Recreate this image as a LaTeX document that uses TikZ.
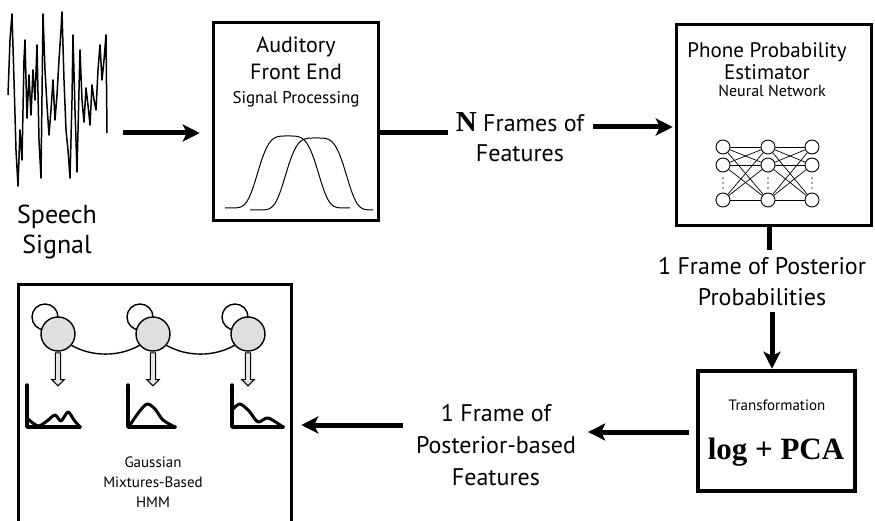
\documentclass[tikz,border=0pt]{standalone}
\usepackage{fontspec}
\setmainfont{PT Sans}
\newfontfamily\timesfont{Liberation Serif}
\usetikzlibrary{arrows.meta,shapes.arrows}
\tikzset{
  box/.style={draw, line width=3.5pt, inner sep=0pt},
  flow/.style={line width=5pt, -{Stealth[length=17pt,width=17pt,inset=4pt]}},
  link/.style={line width=5pt},
  lbl/.style={align=center, inner sep=1pt},
  neuron/.style={circle, draw, line width=0.9pt, minimum size=14pt, inner sep=0pt, fill=white},
  state/.style={circle, draw, line width=1.4pt, fill=gray!25, minimum size=34pt, inner sep=0pt},
  loopc/.style={circle, draw, line width=1.4pt, minimum size=26pt, inner sep=0pt},
  emit/.style={single arrow, draw, fill=gray!20, line width=1pt, shape border rotate=270, minimum height=33pt, inner sep=2.2pt, single arrow head extend=3.5pt},
  pdfline/.style={line width=3pt, line cap=round, line join=round}
}
\begin{document}
\begin{tikzpicture}[x=1pt,y=-1pt]
\path[use as bounding box, clip] (0,0) rectangle (875,521);
\coordinate (row1) at (0,133);
\coordinate (row2) at (0,127);
\coordinate (row3) at (0,432);
\coordinate (row4) at (0,425);
\coordinate (col1) at (769,0);
\coordinate (col2) at (772,0);
\node[minimum width=100pt, minimum height=176pt] (wave) at (58,100){};
\draw[line width=1.5pt, line join=round] plot coordinates {(8,95) (10,40) (12,14) (14,80) (16,150) (18,186) (20,130) (22,160) (24,60) (25,40) (27,118) (29,75) (31,115) (33,70) (35,100) (37,45) (39,140) (41,178) (43,14) (45,70) (47,105) (49,135) (51,110) (53,80) (55,120) (57,95) (59,60) (61,30) (62,12) (64,80) (66,130) (68,150) (70,178) (72,100) (73,35) (75,110) (77,172) (79,90) (80,50) (82,100) (84,122) (86,88) (88,105) (90,125) (92,85) (94,100) (96,110) (98,70) (100,45) (102,80) (104,60) (106,35) (107,133)};
\node[lbl, font=\fontsize{26}{30}\selectfont] (speech) at (57,232){Speech\\Signal};
\node[box, minimum width=165pt, minimum height=198pt] (front) at (296,121.5){};
\node[lbl, font=\fontsize{22}{27}\selectfont] (fronttxt) at (296,58){Auditory\\Front End};
\node[lbl, font=\fontsize{17}{20}\selectfont] (sigproc) at (296,99){Signal Processing};
\draw[line width=1pt] plot[domain=225:350, samples=70] (\x,{208-72*exp(-((\x-288)*(\x-288)/1089)*((\x-288)*(\x-288)/1089))});
\draw[line width=1pt] plot[domain=250:373, samples=70] (\x,{210-72*exp(-((\x-316)*(\x-316)/1089)*((\x-316)*(\x-316)/1089))});
\node[lbl, font=\fontsize{24}{30}\selectfont] (nfeat) at (520,137){{\timesfont\bfseries\fontsize{29}{30}\selectfont N} Frames of\\Features};
\node[box, minimum width=195pt, minimum height=201pt] (estimator) at (774,125){};
\node[lbl, font=\fontsize{21}{22}\selectfont] (esttxt) at (767,61){Phone Probability\\Estimator};
\node[lbl, font=\fontsize{16}{18}\selectfont] (nettxt) at (772,91){Neural Network};
\node[neuron] (n11) at (723,147){};
\node[neuron] (n12) at (723,165){};
\node[neuron] (n13) at (723,200){};
\node[neuron] (n21) at (768,147){};
\node[neuron] (n22) at (768,165){};
\node[neuron] (n23) at (768,200){};
\node[neuron] (n31) at (812,147){};
\node[neuron] (n32) at (812,165){};
\node[neuron] (n33) at (812,200){};
\foreach \a in {1,2,3}
  \foreach \b in {1,2,3}{
    \draw[line width=0.7pt] (n1\a) -- (n2\b);
    \draw[line width=0.7pt] (n2\a) -- (n3\b);
  }
\foreach \c in {723,768,812}
  \foreach \y in {178,183,188}
    \fill[gray!60!black] (\c,\y) circle (0.8pt);
\node[lbl, font=\fontsize{24}{31}\selectfont] (post) at (762,282){1 Frame of Posterior\\Probabilities};
\node[box, line width=4.5pt, minimum width=157pt, minimum height=120pt] (transform) at (776.5,431){};
\node[lbl, font=\fontsize{15}{18}\selectfont] (transtxt) at (777,405){Transformation};
\node[lbl, font=\timesfont\bfseries\fontsize{31}{34}\selectfont] (logpca) at (776,452){log + PCA};
\node[lbl, font=\fontsize{24}{32}\selectfont] (postb) at (496,445){1 Frame of\\Posterior-based\\Features};
\node[box, minimum width=273pt, minimum height=251pt] (hmm) at (155,410){};
\node[loopc] (lp1) at (45,317){};
\node[loopc] (lp2) at (140,317){};
\node[loopc] (lp3) at (235,317){};
\node[state] (st1) at (58,334){};
\node[state] (st2) at (153,334){};
\node[state] (st3) at (248,334){};
\draw[line width=1.4pt] (st1.-40) .. controls (92,357) and (119,357) .. (st2.-140);
\draw[line width=1.4pt] (st2.-40) .. controls (187,357) and (214,357) .. (st3.-140);
\node[emit] (em1) at (58,368){};
\node[emit] (em2) at (153,368){};
\node[emit] (em3) at (248,368){};
\draw[pdfline, line width=3.5pt] (27,385) |- (80,427);
\draw[pdfline] plot[smooth] coordinates {(28,419) (38,426) (47,421) (55,415) (61,421) (68,412) (74,420) (80,427)};
\draw[pdfline, line width=3.5pt] (128,385) |- (175,427);
\draw[pdfline] plot[smooth] coordinates {(130,425) (139,412) (147,404) (155,409) (163,420) (175,427)};
\draw[pdfline, line width=3.5pt] (232,385) |- (283,427);
\draw[pdfline] plot[smooth] coordinates {(233,409) (240,404) (249,411) (258,422) (268,418) (283,427)};
\node[lbl, font=\fontsize{15}{20}\selectfont] (gmm) at (153,482){Gaussian\\Mixtures-Based\\HMM};
\draw[flow, shorten <=15pt, shorten >=12pt] (wave.east |- row1) -- (front.west |- row1);
\draw[link, shorten >=7pt] (front.east |- row1) -- (nfeat.west |- row1);
\draw[flow, shorten <=8pt, shorten >=2pt] (nfeat.east |- row2) -- (estimator.west |- row2);
\draw[link, shorten >=7pt] (estimator.south -| col1) -- (post.north -| col1);
\draw[flow, shorten <=5pt] (post.south -| col2) -- (transform.north -| col2);
\draw[flow, shorten <=7pt, shorten >=11pt] (transform.west |- row3) -- (postb.east |- row3);
\draw[flow, shorten <=12pt, shorten >=8pt] (postb.west |- row4) -- (hmm.east |- row4);
\end{tikzpicture}
\end{document}
